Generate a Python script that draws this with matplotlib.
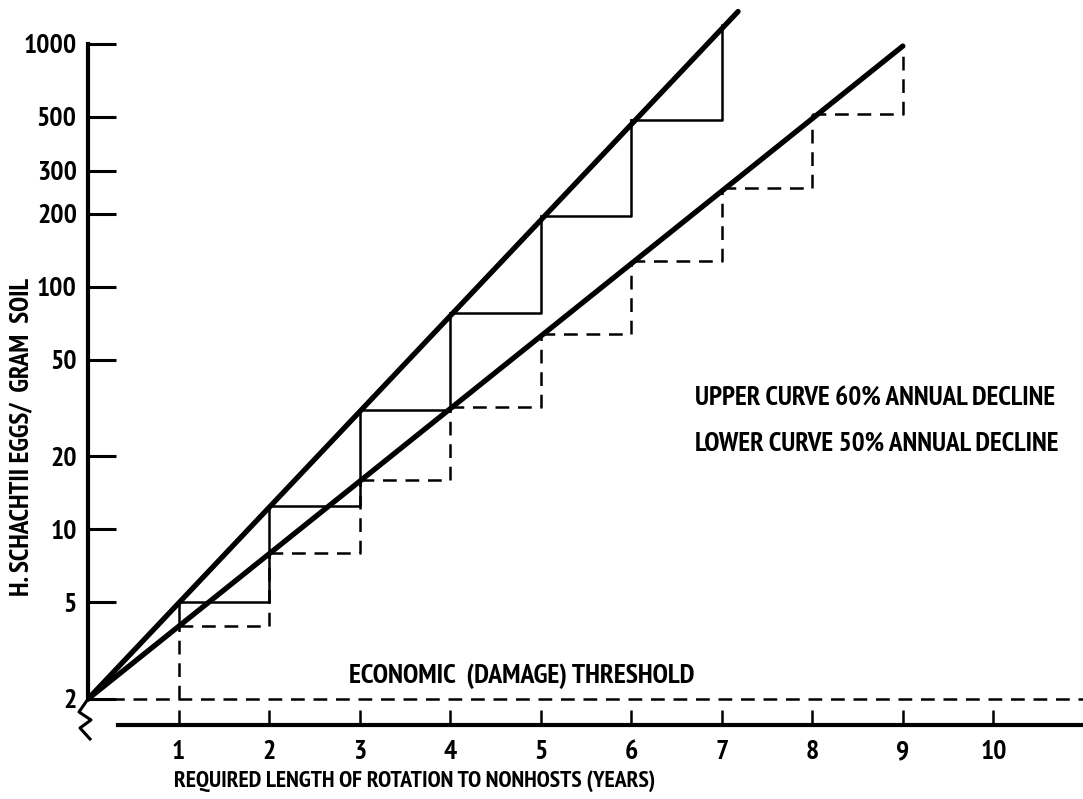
import os
import matplotlib
matplotlib.use("Agg")
import matplotlib.pyplot as plt
from matplotlib import font_manager
from matplotlib.font_manager import FontProperties
from matplotlib.transforms import Affine2D

# look for a condensed bold face by file name
cands = []
for f in font_manager.fontManager.ttflist:
    base = os.path.basename(f.fname).lower()
    if ("narrow" in base or "condensed" in base) and "bold" in base and "oblique" not in base and "italic" not in base:
        cands.append(f.fname)
cands.sort(key=lambda p: (0 if "narrow" in p.lower() else 1, p))
FONT_FILE = cands[0] if cands else None

# Years of rotation and egg densities
upper_years = [0, 1, 2, 3, 4, 5, 6, 7]
upper_eggs = [2, 5, 12.5, 31, 78, 195, 488, 1200]
upper_end = (7.18, 1360)
lower_years = [0, 1, 2, 3, 4, 5, 6, 7, 8, 9]
lower_eggs = [2, 4, 8, 16, 32, 64, 128, 256, 512, 980]
threshold = 2

y_ticks = [2, 5, 10, 20, 50, 100, 200, 300, 500, 1000]
x_ticks = [1, 2, 3, 4, 5, 6, 7, 8, 9, 10]


def fp(size):
    if FONT_FILE:
        return FontProperties(fname=FONT_FILE, size=size)
    return FontProperties(family="DejaVu Sans", weight="bold", size=size * 0.72)


W, H = 1083, 799
fig = plt.figure(figsize=(W / 100, H / 100), dpi=100)
ax = fig.add_axes([88 / W, 39 / H, 995 / W, 760 / H])
ax.set_yscale("log")
ax.set_xlim(0, 10.99)
ax.set_ylim(1.121, 1517)

# main curves
ax.plot([0, upper_end[0]], [upper_eggs[0], upper_end[1]], color="black", lw=3.8,
        solid_capstyle="round")
ax.plot([lower_years[0], lower_years[-1]], [lower_eggs[0], lower_eggs[-1]],
        color="black", lw=3.8, solid_capstyle="round")

# solid staircase (upper curve)
ax.plot([1, 1], [lower_eggs[1], upper_eggs[1]], color="black", lw=1.8)
for i in range(1, len(upper_years) - 1):
    x0, x1 = upper_years[i], upper_years[i + 1]
    ax.plot([x0, x1, x1], [upper_eggs[i], upper_eggs[i], upper_eggs[i + 1]],
            color="black", lw=1.8)

# dashed staircase (lower curve)
dash = dict(color="black", lw=1.8, dashes=(5.5, 3.5))
ax.plot([1, 1], [threshold, lower_eggs[1]], **dash)
for i in range(1, len(lower_years) - 1):
    x0, x1 = lower_years[i], lower_years[i + 1]
    ax.plot([x0, x1, x1], [lower_eggs[i], lower_eggs[i], lower_eggs[i + 1]], **dash)

# economic threshold
ax.plot([0, 11], [threshold, threshold], **dash)

# axes
for s in ("top", "right"):
    ax.spines[s].set_visible(False)
ax.spines["left"].set_position(("data", 0))
ax.spines["left"].set_bounds(threshold, 1000)
ax.spines["left"].set_linewidth(3)
ax.spines["bottom"].set_position(("data", 1.56))
ax.spines["bottom"].set_bounds(0.33, 11)
ax.spines["bottom"].set_linewidth(3)

ax.set_yticks(y_ticks)
ax.set_yticklabels([str(t) for t in y_ticks])
ax.yaxis.set_minor_locator(plt.NullLocator())
ax.tick_params(axis="y", direction="in", length=20, width=2.2, pad=8)
ax.set_xticks(x_ticks)
ax.set_xticklabels([str(t) for t in x_ticks])
ax.tick_params(axis="x", direction="in", length=11, width=1.8, pad=11)
for lab in ax.get_xticklabels() + ax.get_yticklabels():
    lab.set_fontproperties(fp(20))

# axis break zigzag below the y axis
ox, oy = ax.transData.transform((0, threshold))
zig = [(0, 0), (-9, -13), (3, -21), (-8, -29), (2, -40)]
ax.plot([p[0] for p in zig], [p[1] for p in zig], color="black", lw=2.2,
        transform=Affine2D().translate(ox, oy), clip_on=False)


# text
def ftext(x, y, s, size=18, **kw):
    fig.text(x / W, 1 - y / H, s, fontproperties=fp(size), **kw)


ftext(22, 437, "H. SCHACHTII EGGS/  GRAM  SOIL", size=19.5, rotation=90,
      ha="center", va="center")
ftext(415, 781, "REQUIRED LENGTH OF ROTATION TO NONHOSTS (YEARS)", size=17,
      ha="center", va="center")
ftext(349, 676, "ECONOMIC  (DAMAGE) THRESHOLD", size=20, ha="left", va="center")
ftext(695, 399, "UPPER CURVE 60% ANNUAL DECLINE", size=19.5, ha="left",
      va="center")
ftext(695, 444, "LOWER CURVE 50% ANNUAL DECLINE", size=19.5, ha="left",
      va="center")

fig.savefig("out.png", dpi=100)
